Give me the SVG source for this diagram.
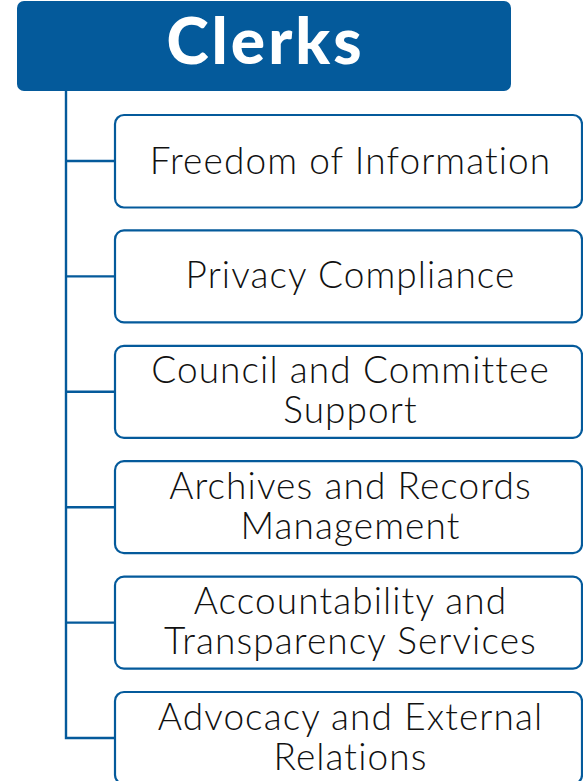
<svg xmlns="http://www.w3.org/2000/svg" width="583" height="781" viewBox="0 0 583 781">
  <style>
    .head { fill: #045A9B; }
    .title { font-family: "Lato", "Noto Sans", sans-serif; font-weight: 900; font-size: 64px; letter-spacing: 3px; fill: #ffffff; text-anchor: middle; }
    .box { fill: #ffffff; stroke: #045A9B; stroke-width: 2.2; }
    .label { font-family: "Lato", "Noto Sans", sans-serif; font-weight: 300; font-size: 37px; letter-spacing: 1.1px; font-variant-ligatures: none; fill: #111111; text-anchor: middle; }
    .wire { fill: none; stroke: #045A9B; stroke-width: 2.4; }
  </style>

  <!-- header -->
  <g id="clerks">
    <rect class="head" x="17" y="1" width="494" height="90" rx="7"/>
    <text class="title" x="265.5" y="64">Clerks</text>
  </g>

  <!-- trunk and branches -->
  <g id="connectors">
    <path class="wire" d="M66 91 V738 H115"/>
    <path class="wire" d="M66 161 H115"/>
    <path class="wire" d="M66 276.4 H115"/>
    <path class="wire" d="M66 391.8 H115"/>
    <path class="wire" d="M66 507.2 H115"/>
    <path class="wire" d="M66 622.6 H115"/>
  </g>

  <g id="foi">
    <rect class="box" x="115" y="115" width="467" height="92.5" rx="9"/>
    <text class="label" x="350.5" y="173.5">Freedom of Information</text>
  </g>

  <g id="privacy">
    <rect class="box" x="115" y="230.4" width="467" height="92" rx="9"/>
    <text class="label" x="350.5" y="288">Privacy Compliance</text>
  </g>

  <g id="council">
    <rect class="box" x="115" y="345.8" width="467" height="92" rx="9"/>
    <text class="label" x="350.5" y="383">Council and Committee</text>
    <text class="label" x="350.5" y="423">Support</text>
  </g>

  <g id="archives">
    <rect class="box" x="115" y="461.2" width="467" height="92" rx="9"/>
    <text class="label" x="350.5" y="498.5">Archives and Records</text>
    <text class="label" x="350.5" y="538.5">Management</text>
  </g>

  <g id="accountability">
    <rect class="box" x="115" y="576.6" width="467" height="92" rx="9"/>
    <text class="label" x="350.5" y="614">Accountability and</text>
    <text class="label" x="350.5" y="654">Transparency Services</text>
  </g>

  <g id="advocacy">
    <rect class="box" x="115" y="692" width="467" height="92" rx="9"/>
    <text class="label" x="350.5" y="729.5">Advocacy and External</text>
    <text class="label" x="350.5" y="769.5">Relations</text>
  </g>
</svg>
